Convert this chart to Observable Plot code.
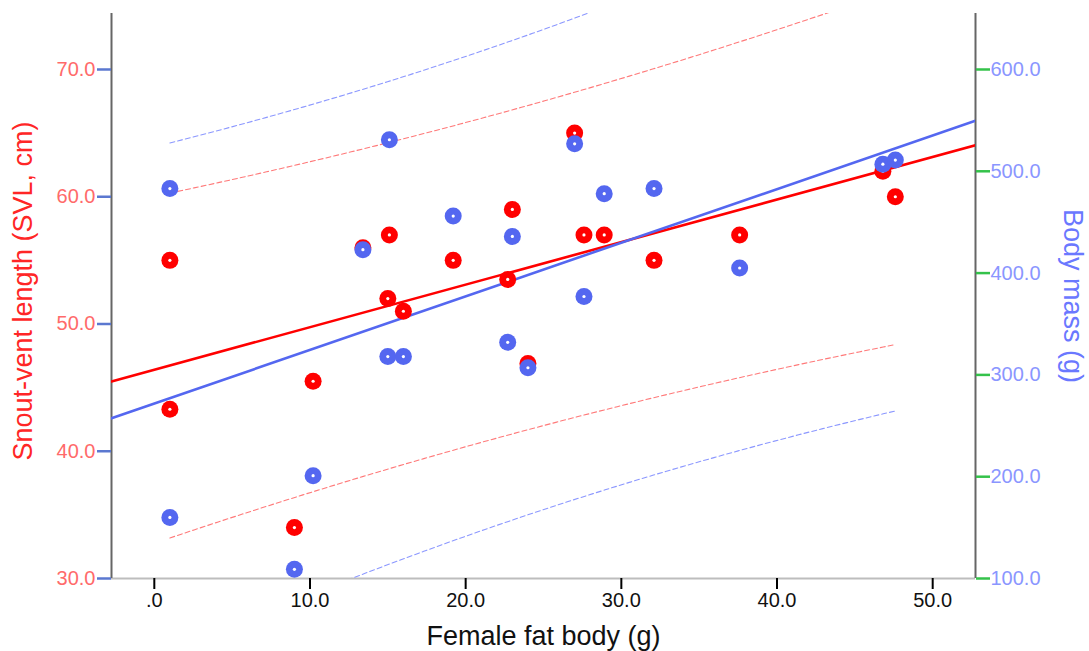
<!DOCTYPE html>
<html><head><meta charset="utf-8">
<script src="https://cdn.jsdelivr.net/npm/d3@7"></script>
<script src="https://cdn.jsdelivr.net/npm/@observablehq/plot@0.6"></script>
<style>
html,body{margin:0;padding:0;background:#fff;}
#chart svg{display:block;}
</style></head><body><div id="chart"></div>
<script>
// Female fat body (g) for each individual
const fatBody  = [1.0, 1.0, 9.0, 10.2, 13.4, 15.1, 15.0, 16.0, 19.2, 23.0, 22.7, 24.0, 27.0, 27.6, 28.9, 32.1, 37.6, 46.8, 47.6];
// Snout-vent length (cm)
const svl      = [55.0, 43.3, 34.0, 45.5, 56.0, 57.0, 52.0, 51.0, 55.0, 59.0, 53.5, 46.9, 65.0, 57.0, 57.0, 55.0, 57.0, 62.0, 60.0];
// Body mass (g)
const bodyMass = [483, 160, 109, 201, 423, 531, 318, 318, 456, 436, 332, 307, 527, 377, 478, 483, 405, 507, 511];

const xTicks = [0, 10, 20, 30, 40, 50];
const xTickLabels = [".0", "10.0", "20.0", "30.0", "40.0", "50.0"];
const svlTicks = [30, 40, 50, 60, 70];
const svlTickLabels = ["30.0", "40.0", "50.0", "60.0", "70.0"];
const massTicks = [100, 200, 300, 400, 500, 600];
const massTickLabels = ["100.0", "200.0", "300.0", "400.0", "500.0", "600.0"];

const xTitle = "Female fat body (g)";
const yLeftTitle = "Snout-vent length (SVL, cm)";
const yRightTitle = "Body mass (g)";

const xDomain = [-2.75, 52.75];
const svlDomain = [30, 74.4];
// the two vertical axes are aligned: mass 100 <-> SVL 30, mass 600 <-> SVL 70
const massToSvl = d3.scaleLinear([100, 600], [30, 70]);
const tQuantile = 2.1098; // Student t, 0.975, df = 17 (95% individual prediction interval)

function fit(xs, ys) {
  const n = xs.length, mx = d3.mean(xs), my = d3.mean(ys);
  let sxx = 0, sxy = 0;
  for (let i = 0; i < n; i++) { sxx += (xs[i]-mx)**2; sxy += (xs[i]-mx)*(ys[i]-my); }
  const b = sxy / sxx, a = my - b * mx;
  let sse = 0;
  for (let i = 0; i < n; i++) sse += (ys[i] - (a + b*xs[i]))**2;
  const s = Math.sqrt(sse / (n - 2));
  return {a, b, s, n, mx, sxx};
}
function lineData(f, map) {
  return xDomain.map(x => ({x, y: map(f.a + f.b*x)}));
}
function bandData(f, xs, map) {
  const [x0, x1] = d3.extent(xs);
  return d3.range(0, 61).map(k => {
    const x = x0 + (x1 - x0) * k / 60;
    const yhat = f.a + f.b*x;
    const h = tQuantile * f.s * Math.sqrt(1 + 1/f.n + (x - f.mx)**2 / f.sxx);
    return {x, lo: map(yhat - h), hi: map(yhat + h)};
  });
}

const id = v => v;
const fR = fit(fatBody, svl);
const fB = fit(fatBody, bodyMass);
const redLine = lineData(fR, id), blueLine = lineData(fB, massToSvl);
const redBand = bandData(fR, fatBody, id), blueBand = bandData(fB, fatBody, massToSvl);

const redPts = fatBody.map((x, i) => ({x, y: svl[i]}));
const bluePts = fatBody.map((x, i) => ({x, y: massToSvl(bodyMass[i])}));

const RED = "#ff0000", BLUE = "#5467f0";
const dash = {strokeWidth: 1.1, strokeDasharray: "5,3", clip: true};

const chart = Plot.plot({
  width: 1089, height: 651,
  marginLeft: 111, marginRight: 114, marginTop: 13, marginBottom: 73,
  style: {fontFamily: "'Liberation Sans', Arial, Helvetica, sans-serif", background: "#fff"},
  x: {domain: xDomain, label: null},
  y: {domain: svlDomain, label: null},
  marks: [
    Plot.ruleY([svlDomain[0]], {stroke: "#bdbdbd", strokeWidth: 2}),
    Plot.ruleX([xDomain[0]], {stroke: "#666", strokeWidth: 2}),
    Plot.ruleX([xDomain[1]], {stroke: "#666", strokeWidth: 2}),
    Plot.line(blueBand, {x: "x", y: "hi", stroke: "#8c98ff", ...dash}),
    Plot.line(blueBand, {x: "x", y: "lo", stroke: "#8c98ff", ...dash}),
    Plot.line(redBand, {x: "x", y: "hi", stroke: "#ff7a7a", ...dash}),
    Plot.line(redBand, {x: "x", y: "lo", stroke: "#ff7a7a", ...dash}),
    Plot.line(redLine, {x: "x", y: "y", stroke: RED, strokeWidth: 2.6, clip: true}),
    Plot.line(blueLine, {x: "x", y: "y", stroke: BLUE, strokeWidth: 2.6, clip: true}),
    Plot.dot(redPts, {x: "x", y: "y", r: 8.5, fill: RED}),
    Plot.dot(redPts, {x: "x", y: "y", r: 1.6, fill: "#fff"}),
    Plot.dot(bluePts, {x: "x", y: "y", r: 8.5, fill: BLUE}),
    Plot.dot(bluePts, {x: "x", y: "y", r: 1.6, fill: "#fff"}),
    Plot.axisX(xTicks, {tickFormat: d => xTickLabels[xTicks.indexOf(d)], tickSize: 11, tickPadding: 3,
      stroke: "#000", strokeWidth: 2, fill: "#111", fontSize: 20, label: null}),
    Plot.axisY(svlTicks, {anchor: "left", tickFormat: d => svlTickLabels[svlTicks.indexOf(d)], tickSize: 14, tickPadding: 2,
      stroke: "#5b78d0", strokeWidth: 2.5, fill: "#ff6a6a", fontSize: 20, label: null}),
    Plot.axisY(massTicks.map(m => massToSvl(m)), {anchor: "right",
      tickFormat: d => massTickLabels[massTicks.findIndex(m => Math.abs(massToSvl(m) - d) < 1e-9)],
      tickSize: 14, tickPadding: 1, stroke: "#34c24a", strokeWidth: 2.5, fill: "#8a96ff", fontSize: 20, label: null}),
    Plot.text([yLeftTitle], {text: d => d, frameAnchor: "left", textAnchor: "middle", lineAnchor: "middle",
      rotate: -90, dx: -88, dy: -5, fontSize: 27, fill: "#ff2626"}),
    Plot.text([yRightTitle], {text: d => d, frameAnchor: "right", textAnchor: "middle", lineAnchor: "middle",
      rotate: 90, dx: 97, fontSize: 27, fill: "#6a78ff"}),
    Plot.text([xTitle], {text: d => d, frameAnchor: "bottom", textAnchor: "middle", lineAnchor: "middle",
      dy: 58, fontSize: 27, fill: "#111"})
  ]
});
document.getElementById("chart").appendChild(chart);
</script>
</body></html>
